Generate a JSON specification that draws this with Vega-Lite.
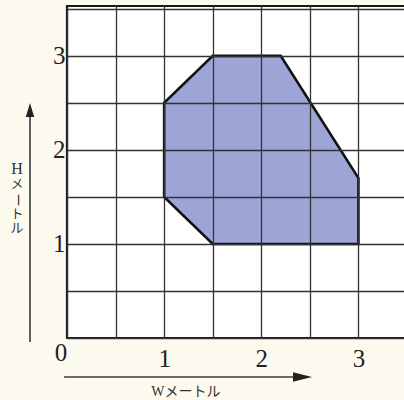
{
  "$schema": "https://vega.github.io/schema/vega-lite/v6.json",
  "width": 340,
  "height": 332,
  "autosize": "none",
  "padding": {"left": 67, "top": 6, "right": 0, "bottom": 62},
  "background": "#fcfaef",
  "config": {
    "view": {"fill": "#ffffff", "stroke": "#1a1a1a", "strokeWidth": 2.2},
    "text": {"font": "Liberation Serif, Noto Sans CJK JP", "fontSize": 13, "color": "#333333", "align": "center", "baseline": "middle"}
  },
  "datasets": {
    "shape": [
      {"i": 1, "w": 1.5, "h": 1},
      {"i": 2, "w": 3, "h": 1},
      {"i": 3, "w": 3, "h": 1.7},
      {"i": 4, "w": 2.2, "h": 3},
      {"i": 5, "w": 1.5, "h": 3},
      {"i": 6, "w": 1, "h": 2.5},
      {"i": 7, "w": 1, "h": 1.5}
    ],
    "arrows": [
      {"w": -0.03, "w2": 2.42, "h": -0.414, "h2": -0.414},
      {"w": -0.381, "w2": -0.381, "h": -0.043, "h2": 2.42}
    ],
    "harrow": [{"w": 2.424, "h": -0.414}],
    "varrow": [{"w": -0.381, "h": 2.423}],
    "origin": [{"w": 0, "h": 0, "t": "0"}],
    "wtitle": [{"w": 1.224, "h": -0.574, "t": "Wメートル"}],
    "htitle": [{"w": -0.515, "h": 1.467, "c1": "H", "c2": "メ", "c3": "ー", "c4": "ト", "c5": "ル"}]
  },
  "layer": [
    {
      "data": {"name": "shape"},
      "mark": {
        "type": "line",
        "interpolate": "linear-closed",
        "fill": "#9ca5d5",
        "filled": false,
        "stroke": "#111111",
        "strokeWidth": 2.6,
        "strokeJoin": "miter"
      },
      "encoding": {
        "x": {
          "field": "w", "type": "quantitative",
          "scale": {"domain": [0, 3.5], "nice": false, "zero": false},
          "axis": {
            "title": null,
            "values": [0, 0.5, 1, 1.5, 2, 2.5, 3, 3.5],
            "labelExpr": "datum.value == 1 || datum.value == 2 || datum.value == 3 ? format(datum.value, 'd') : ''",
            "grid": true, "gridColor": "#333333", "gridWidth": 1.3, "gridOpacity": 1,
            "ticks": false, "domain": false,
            "labelFont": "Liberation Serif", "labelFontSize": 25, "labelColor": "#222222",
            "labelPadding": 8, "labelFlush": false, "labelOverlap": false,
            "zindex": 1
          }
        },
        "y": {
          "field": "h", "type": "quantitative",
          "scale": {"domain": [0, 3.53], "nice": false, "zero": false},
          "axis": {
            "title": null,
            "values": [0, 0.5, 1, 1.5, 2, 2.5, 3, 3.5],
            "labelExpr": "datum.value == 1 || datum.value == 2 || datum.value == 3 ? format(datum.value, 'd') : ''",
            "grid": true, "gridColor": "#333333", "gridWidth": 1.3, "gridOpacity": 1,
            "ticks": false, "domain": false,
            "labelFont": "Liberation Serif", "labelFontSize": 25, "labelColor": "#222222",
            "labelPadding": 2, "labelFlush": false, "labelOverlap": false,
            "zindex": 1
          }
        },
        "order": {"field": "i", "type": "quantitative"}
      }
    },
    {
      "data": {"name": "arrows"},
      "mark": {"type": "rule", "color": "#3a3a3a", "strokeWidth": 1.6},
      "encoding": {
        "x": {"field": "w", "type": "quantitative"},
        "x2": {"field": "w2"},
        "y": {"field": "h", "type": "quantitative"},
        "y2": {"field": "h2"}
      }
    },
    {
      "data": {"name": "harrow"},
      "mark": {"type": "point", "shape": "M-1,-0.5L1,0L-1,0.5Z", "size": 361, "filled": true, "color": "#222222", "opacity": 1},
      "encoding": {
        "x": {"field": "w", "type": "quantitative"},
        "y": {"field": "h", "type": "quantitative"}
      }
    },
    {
      "data": {"name": "varrow"},
      "mark": {"type": "point", "shape": "M0,-1L0.6,1L-0.6,1Z", "size": 196, "filled": true, "color": "#222222", "opacity": 1},
      "encoding": {
        "x": {"field": "w", "type": "quantitative"},
        "y": {"field": "h", "type": "quantitative"}
      }
    },
    {
      "data": {"name": "origin"},
      "mark": {"type": "text", "font": "Liberation Serif", "fontSize": 25, "color": "#222222", "dx": -6, "dy": 15},
      "encoding": {
        "x": {"field": "w", "type": "quantitative"},
        "y": {"field": "h", "type": "quantitative"},
        "text": {"field": "t"}
      }
    },
    {
      "data": {"name": "wtitle"},
      "mark": {"type": "text", "fontSize": 14},
      "encoding": {
        "x": {"field": "w", "type": "quantitative"},
        "y": {"field": "h", "type": "quantitative"},
        "text": {"field": "t"}
      }
    },
    {
      "data": {"name": "htitle"},
      "mark": {"type": "text", "fontSize": 16, "dy": -31},
      "encoding": {
        "x": {"field": "w", "type": "quantitative"},
        "y": {"field": "h", "type": "quantitative"},
        "text": {"field": "c1"}
      }
    },
    {
      "data": {"name": "htitle"},
      "mark": {"type": "text", "dy": -16},
      "encoding": {
        "x": {"field": "w", "type": "quantitative"},
        "y": {"field": "h", "type": "quantitative"},
        "text": {"field": "c2"}
      }
    },
    {
      "data": {"name": "htitle"},
      "mark": {"type": "text", "angle": 90, "dy": -1},
      "encoding": {
        "x": {"field": "w", "type": "quantitative"},
        "y": {"field": "h", "type": "quantitative"},
        "text": {"field": "c3"}
      }
    },
    {
      "data": {"name": "htitle"},
      "mark": {"type": "text", "dy": 14},
      "encoding": {
        "x": {"field": "w", "type": "quantitative"},
        "y": {"field": "h", "type": "quantitative"},
        "text": {"field": "c4"}
      }
    },
    {
      "data": {"name": "htitle"},
      "mark": {"type": "text", "dy": 28},
      "encoding": {
        "x": {"field": "w", "type": "quantitative"},
        "y": {"field": "h", "type": "quantitative"},
        "text": {"field": "c5"}
      }
    }
  ]
}
